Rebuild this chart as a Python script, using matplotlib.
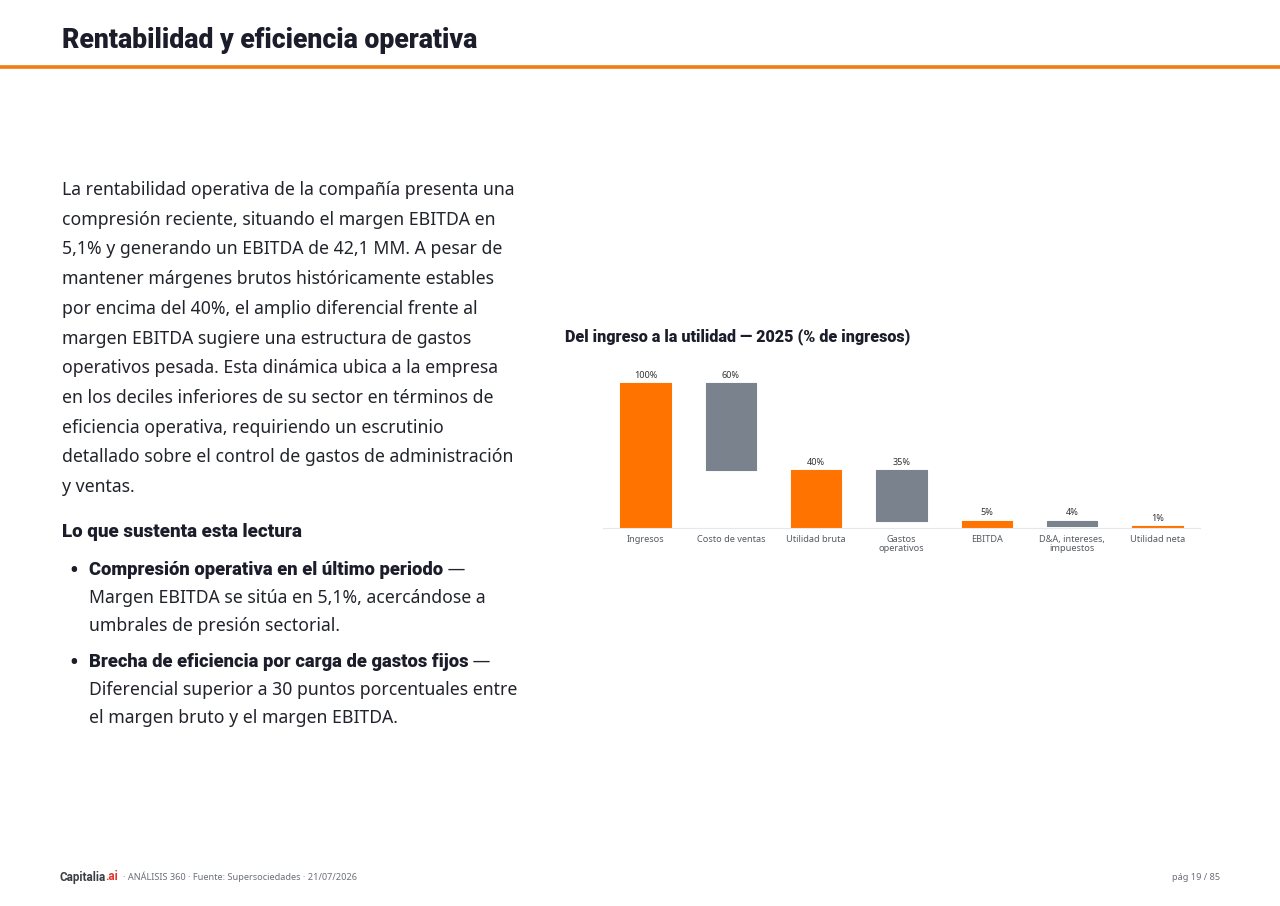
import numpy as np
import matplotlib
matplotlib.use("Agg")
import matplotlib.pyplot as plt

# Data
categories = ["Ingresos", "Costo de ventas", "Utilidad bruta", "Gastos\noperativos",
              "EBITDA", "D&A, intereses,\nimpuestos", "Utilidad neta"]
bar_bottom = [0, 40.1, 0, 5.1, 0, 1.1, 0]
bar_height = [100, 59.9, 40.1, 35.0, 5.1, 4.0, 1.1]
bar_kind = ["total", "resta", "total", "resta", "total", "resta", "total"]
value_labels = ["100%", "60%", "40%", "35%", "5%", "4%", "1%"]

paragraph = [
    "La rentabilidad operativa de la compañía presenta una",
    "compresión reciente, situando el margen EBITDA en",
    "5,1% y generando un EBITDA de 42,1 MM. A pesar de",
    "mantener márgenes brutos históricamente estables",
    "por encima del 40%, el amplio diferencial frente al",
    "margen EBITDA sugiere una estructura de gastos",
    "operativos pesada. Esta dinámica ubica a la empresa",
    "en los deciles inferiores de su sector en términos de",
    "eficiencia operativa, requiriendo un escrutinio",
    "detallado sobre el control de gastos de administración",
    "y ventas.",
]
bullets = [
    ("Compresión operativa en el último periodo", [
        "Margen EBITDA se sitúa en 5,1%, acercándose a",
        "umbrales de presión sectorial."]),
    ("Brecha de eficiencia por carga de gastos fijos", [
        "Diferencial superior a 30 puntos porcentuales entre",
        "el margen bruto y el margen EBITDA."]),
]

ORANGE = "#ff7300"
GRAY = "#7a828e"
INK = "#1b1d2a"
TEXT = "#22242c"
MUTED = "#6b6f78"

plt.rcParams['font.family'] = ['Noto Sans', 'DejaVu Sans']
BOLD = ['Roboto', 'DejaVu Sans']

W, H = 1280, 906
fig = plt.figure(figsize=(W / 100, H / 100), dpi=100)
fig.patch.set_facecolor("white")


def fx(px):
    return px / W


def fy(py):
    return 1 - py / H


# header
fig.text(fx(62), fy(41), "Rentabilidad y eficiencia operativa", fontsize=19.2,
         fontweight=900, family=BOLD, color=INK, va="center", ha="left")
fig.add_artist(plt.Line2D([0, 1], [fy(66.5), fy(66.5)], color="#f07c12", lw=2.6))

# left paragraph
y = 190
for line in paragraph:
    fig.text(fx(62), fy(y), line, fontsize=12.7, color=TEXT, va="center", ha="left")
    y += 29.7

fig.text(fx(62), fy(532), "Lo que sustenta esta lectura", fontsize=13.5,
         fontweight=900, family=BOLD, color=INK, va="center", ha="left")

renderer = fig.canvas.get_renderer()
ys = [570, 662]
for (head, rest), y0 in zip(bullets, ys):
    fig.text(fx(74), fy(y0 + 1), "•", fontsize=17, fontweight="bold", family=BOLD,
             color=INK, va="center", ha="center")
    t = fig.text(fx(89), fy(y0), head, fontsize=13.2, fontweight=900, family=BOLD,
                 color=INK, va="center", ha="left")
    bb = t.get_window_extent(renderer)
    fig.text(bb.x1 / W, fy(y0), " —", fontsize=12.7, color=TEXT, va="center", ha="left")
    yy = y0
    for line in rest:
        yy += 28
        fig.text(fx(89), fy(yy), line, fontsize=12.7, color=TEXT, va="center", ha="left")

# chart
fig.text(fx(565), fy(337), "Del ingreso a la utilidad — 2025 (% de ingresos)",
         fontsize=11.6, fontweight=900, family=BOLD, color=INK, va="center", ha="left")

ymax = 110
ax_bottom = 528
ax_h = 145 * ymax / 100
ax = fig.add_axes([fx(603), fy(ax_bottom), fx(1200) - fx(603), ax_h / H])
x = np.arange(len(categories))
colors = [ORANGE if k == "total" else GRAY for k in bar_kind]
bars = ax.bar(x, bar_height, bottom=bar_bottom, width=0.59, color=colors,
              edgecolor=colors, linewidth=0.8, zorder=2)
for b in bars:
    b.set_joinstyle("round")
for xi, b, h, lab in zip(x, bar_bottom, bar_height, value_labels):
    ax.text(xi, b + h + 2.2, lab, ha="center", va="bottom", fontsize=6.5, color="#333333")
ax.set_xlim(-0.5, len(categories) - 0.5)
ax.set_ylim(0, ymax)
ax.set_xticks(x)
ax.set_xticklabels(categories, fontsize=6.6, color="#555a63", linespacing=1.0)
ax.tick_params(axis="x", length=0, pad=5)
ax.set_yticks([])
for s in ["top", "right", "left"]:
    ax.spines[s].set_visible(False)
ax.spines["bottom"].set_color("#e6e7ea")
ax.spines["bottom"].set_linewidth(0.8)
ax.set_facecolor("none")

# footer
t1 = fig.text(fx(59), fy(877), "Capitalia", fontsize=8.4, fontweight="bold", family=BOLD,
              color="#3a3d45", va="center", ha="left")
bb = t1.get_window_extent(renderer)
t2 = fig.text(bb.x1 / W, fy(877), ".ai", fontsize=8.4, fontweight="bold", family=BOLD,
              color="#e0362c", va="center", ha="left")
bb = t2.get_window_extent(renderer)
fig.text(bb.x1 / W + fx(5), fy(877), "· ANÁLISIS 360 · Fuente: Supersociedades · 21/07/2026",
         fontsize=6.6, color=MUTED, va="center", ha="left")
fig.text(fx(1220), fy(877), "pág 19 / 85", fontsize=6.6, color=MUTED, va="center", ha="right")

fig.savefig("out.png", dpi=100, facecolor="white")
